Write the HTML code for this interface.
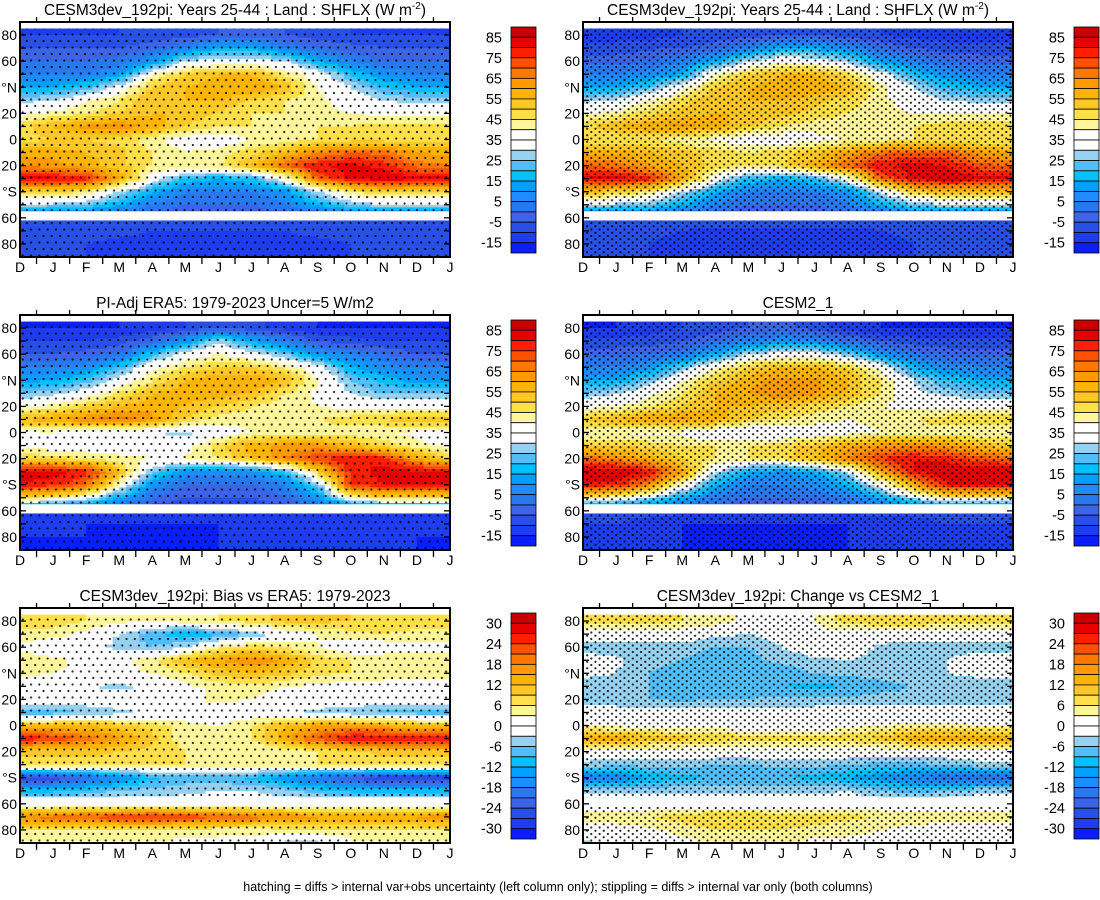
<!DOCTYPE html>
<html><head><meta charset="utf-8">
<style>
html,body{margin:0;padding:0;background:#fff;}
svg text{font-family:"Liberation Sans",Arial,sans-serif;fill:#000;}
</style></head>
<body>
<svg id="fig" width="1100" height="895" viewBox="0 0 1100 895" xmlns="http://www.w3.org/2000/svg">
<defs>
<pattern id="dots" width="8.3" height="6.5" patternUnits="userSpaceOnUse"><circle cx="2" cy="2" r="1.1" fill="#000"/><circle cx="6.15" cy="5.25" r="1.1" fill="#000"/></pattern>
<pattern id="dotsSparse" width="8.3" height="13" patternUnits="userSpaceOnUse"><circle cx="2" cy="2" r="1.1" fill="#000"/><circle cx="6.15" cy="8.5" r="1.1" fill="#000"/></pattern>
</defs>
<g id="panels"></g>
<text x="558" y="891" font-size="12.5" text-anchor="middle">hatching = diffs &gt; internal var+obs uncertainty (left column only); stippling = diffs &gt; internal var only (both columns)</text>
</svg>
<script>
const months = ['D','J','F','M','A','M','J','J','A','S','O','N','D','J'];
const lats = [90,80,70,60,50,40,30,20,10,0,-10,-20,-30,-40,-50,-60,-70,-80,-90];
const latLabels = ['80','60','°N','20','0','20','°S','60','80'];
const latLabelVals = [80,60,40,20,0,-20,-40,-60,-80];
const missingBands = [[90,85],[-55,-62]];
const absTicks = ['85','75','65','55','45','35','25','15','5','-5','-15'];
const diffTicks = ['30','24','18','12','6','0','-6','-12','-18','-24','-30'];
const boxColors = ['#c80000','#e60000','#ff1e00','#ff5000','#ff7800','#ff9a00','#ffb400','#ffc828','#ffe04a','#fff59a','#ffffff','#ffffff','#96d2f0','#50befa','#00c0ff','#00a0ff','#1e8cff','#2878f0','#3c64e6','#2850e6','#1e3cf0','#0a1eff'];

const fieldA = [
[-10,-10,-10,-10,-8,-8,-5,-3,-5,-8,-10,-10,-10,-10],
[-10,-10,-10,-10,-8,-8,-5,-3,-5,-8,-10,-10,-10,-10],
[-5,-5,-5,-5,-2,5,15,15,5,0,-3,-5,-5,-5],
[0,0,0,2,10,30,35,35,30,15,5,0,0,0],
[5,5,5,10,40,50,55,55,45,35,20,10,5,5],
[15,15,20,35,50,55,60,60,55,40,30,20,15,15],
[28,30,40,45,55,55,55,50,45,42,35,30,28,28],
[38,42,45,50,55,55,50,45,45,42,40,38,38,38],
[48,55,62,65,58,50,45,45,42,45,45,48,48,48],
[48,50,50,48,42,35,35,40,42,45,48,48,48,48],
[58,58,55,52,45,40,42,48,55,65,70,68,60,58],
[65,62,58,52,45,42,45,55,70,80,82,78,68,65],
[82,82,78,60,35,20,15,20,35,70,82,85,82,82],
[50,50,45,30,15,5,5,5,10,30,45,50,50,50],
[30,28,25,15,5,0,0,0,5,15,25,30,30,30],
[-5,-5,-5,-5,-5,-5,-5,-5,-5,-5,-5,-5,-5,-5],
[-5,-5,-6,-8,-10,-10,-10,-10,-10,-8,-6,-5,-5,-5],
[-8,-8,-10,-12,-12,-12,-12,-12,-12,-12,-10,-8,-8,-8],
[-8,-8,-10,-12,-12,-12,-12,-12,-12,-12,-10,-8,-8,-8]];
const fieldB = [
[-12,-12,-12,-10,-8,-8,-5,-5,-8,-10,-12,-12,-12,-12],
[-12,-12,-12,-10,-8,-8,-5,-5,-8,-10,-12,-12,-12,-12],
[-8,-8,-6,-5,-2,5,15,15,8,0,-5,-8,-8,-8],
[-2,-2,0,5,15,30,38,35,28,12,5,0,-2,-2],
[5,5,8,15,40,50,55,55,48,35,18,10,5,5],
[15,15,22,38,50,55,60,60,55,42,30,20,15,15],
[28,32,40,48,55,55,55,52,48,42,35,30,28,28],
[40,42,48,52,55,55,52,48,45,42,40,40,40,40],
[48,55,60,62,58,50,45,42,42,45,45,48,48,48],
[45,45,45,42,38,35,35,38,40,42,45,45,45,45],
[58,58,55,52,48,45,48,52,60,68,72,70,62,58],
[70,68,60,55,48,45,48,58,70,80,82,80,72,70],
[82,82,78,60,35,20,15,20,35,70,82,85,82,82],
[55,50,45,30,15,5,5,5,10,30,50,55,55,55],
[30,28,25,15,5,0,0,0,5,15,25,30,30,30],
[-5,-5,-5,-5,-5,-5,-5,-5,-5,-5,-5,-5,-5,-5],
[-8,-8,-8,-10,-12,-12,-12,-12,-12,-10,-8,-8,-8,-8],
[-8,-8,-10,-12,-14,-14,-14,-14,-14,-12,-10,-8,-8,-8],
[-8,-8,-10,-12,-14,-14,-14,-14,-14,-12,-10,-8,-8,-8]];
const fieldC = [
[-15,-15,-15,-15,-12,-10,-5,-8,-12,-15,-15,-15,-15,-15],
[-15,-15,-15,-15,-12,-10,-5,-8,-12,-15,-15,-15,-15,-15],
[-10,-10,-10,-8,-2,10,30,15,5,-5,-8,-10,-10,-10],
[-5,-5,-3,0,20,35,40,35,25,10,5,0,-5,-5],
[5,5,8,20,38,45,50,50,45,35,15,8,5,5],
[12,15,22,35,45,55,60,60,55,40,25,18,12,12],
[25,28,35,45,55,58,58,55,45,38,30,25,25,25],
[38,42,50,55,58,55,50,45,42,40,38,38,38,38],
[55,60,65,68,62,50,42,42,42,45,48,50,55,55],
[38,38,35,32,30,28,35,40,42,42,42,40,38,38],
[38,36,35,35,35,38,48,58,62,62,55,48,42,38],
[50,48,45,42,40,40,45,55,65,75,80,78,60,50],
[82,82,78,55,25,10,8,10,20,50,78,82,82,82],
[80,78,70,40,10,0,0,0,5,25,75,80,80,80],
[50,45,35,15,0,-5,-5,-5,0,10,40,50,50,50],
[-10,-10,-10,-10,-10,-10,-10,-10,-10,-10,-10,-10,-10,-10],
[-14,-14,-15,-15,-15,-15,-15,-15,-15,-15,-14,-14,-14,-14],
[-15,-15,-15,-15,-15,-15,-15,-14,-12,-10,-10,-12,-15,-15],
[-15,-15,-15,-15,-15,-15,-15,-14,-12,-10,-10,-12,-15,-15]];
const fieldD = [
[-15,-15,-12,-10,-8,-5,-3,-8,-12,-15,-15,-15,-15,-15],
[-15,-15,-12,-10,-8,-5,-3,-8,-12,-15,-15,-15,-15,-15],
[-8,-8,-8,-5,0,5,10,8,0,-5,-8,-8,-8,-8],
[-2,-2,0,2,15,30,35,35,25,10,2,-2,-2,-2],
[5,5,10,25,40,50,55,55,50,38,15,8,5,5],
[15,15,25,40,50,58,62,62,55,45,30,20,15,15],
[25,30,38,45,55,60,65,62,55,45,32,28,25,25],
[38,40,45,50,55,55,52,48,45,40,38,38,38,38],
[50,55,60,62,58,50,45,42,40,42,45,48,50,50],
[40,40,38,38,32,30,32,35,38,40,42,42,40,40],
[50,50,48,45,45,45,48,52,58,62,65,62,55,50],
[70,65,58,50,45,45,48,55,65,75,80,78,72,70],
[85,85,80,60,30,15,10,15,30,60,80,85,85,85],
[80,78,65,40,15,5,5,8,15,35,60,80,80,80],
[45,40,30,15,5,0,0,0,5,15,30,45,45,45],
[-8,-8,-8,-8,-8,-8,-8,-8,-8,-8,-8,-8,-8,-8],
[-10,-10,-12,-15,-15,-15,-15,-15,-15,-14,-12,-10,-10,-10],
[-10,-12,-12,-15,-15,-15,-15,-15,-15,-14,-12,-12,-10,-10],
[-10,-12,-12,-15,-15,-15,-15,-15,-15,-14,-12,-12,-10,-10]];
const fieldE = [
[8,8,6,4,3,5,6,8,10,10,9,9,8,8],
[8,8,6,4,3,5,6,8,10,10,9,9,8,8],
[5,4,2,-3,-8,-12,-10,-6,0,3,5,6,5,5],
[2,0,0,-5,-6,-3,5,8,6,3,0,0,2,2],
[5,4,2,2,5,12,15,18,15,8,6,6,5,5],
[4,3,2,2,3,6,10,12,10,7,6,5,4,4],
[1,0,-3,-4,-2,2,4,5,3,2,1,1,1,1],
[0,0,0,0,0,2,4,3,1,0,0,0,0,0],
[-8,-8,-6,-4,-2,0,0,0,-2,-4,-5,-7,-8,-8],
[12,12,12,10,8,4,3,6,12,15,15,14,12,12],
[27,24,20,16,10,4,3,6,14,22,28,28,27,27],
[10,10,10,9,8,6,5,3,3,6,8,10,10,10],
[8,8,8,7,6,6,6,5,5,6,7,8,8,8],
[-28,-26,-22,-16,-10,-8,-8,-10,-15,-20,-24,-28,-28,-28],
[-10,-10,-8,-6,-5,-4,-3,-3,-5,-8,-10,-10,-10,-10],
[0,0,0,0,0,0,0,0,0,0,0,0,0,0],
[18,20,22,24,26,24,22,20,18,16,15,15,16,18],
[6,6,6,6,6,5,4,4,5,5,6,6,6,6],
[2,2,2,2,2,2,2,2,-4,-4,2,2,2,2]];
const fieldF = [
[8,8,8,6,5,2,0,3,8,9,9,8,8,8],
[8,8,8,6,5,2,0,3,8,9,9,8,8,8],
[0,0,0,0,-2,-3,0,2,0,0,0,0,0,0],
[-5,-5,-5,-5,-6,-6,-3,0,0,-4,-5,-5,-5,-5],
[0,-2,-5,-6,-7,-7,-5,-4,-3,-4,-4,-3,0,0],
[-2,-3,-6,-8,-9,-9,-8,-6,-5,-5,-4,-3,-2,-2],
[-5,-5,-6,-8,-9,-8,-9,-10,-9,-7,-6,-5,-5,-5],
[-5,-6,-6,-7,-6,-6,-5,-5,-5,-5,-5,-5,-5,-5],
[0,0,-1,-1,-1,0,-2,-1,0,0,0,0,0,0],
[3,2,1,1,1,0,0,0,2,3,4,4,3,3],
[15,14,12,10,9,8,7,7,8,10,14,15,15,15],
[0,0,0,0,0,0,0,0,0,0,0,0,0,0],
[-4,-5,-5,-5,-6,-6,-5,-5,-6,-7,-7,-6,-4,-4],
[-20,-18,-12,-10,-9,-9,-9,-10,-12,-15,-18,-20,-20,-20],
[-4,-4,-4,-4,-4,-4,-4,-4,-3,-6,-8,-6,-4,-4],
[0,0,0,0,0,0,0,0,0,0,0,0,0,0],
[5,6,6,8,9,9,8,8,7,6,6,5,5,5],
[0,0,2,4,6,6,6,5,4,3,1,0,0,0],
[-4,0,0,2,3,3,3,2,2,1,0,0,0,0]];

const NS='http://www.w3.org/2000/svg';
const root=document.getElementById('panels');
function mk(tag,attrs,parent){const e=document.createElementNS(NS,tag);for(const k in attrs)e.setAttribute(k,attrs[k]);(parent||root).appendChild(e);return e;}

const panelDefs=[
 {id:'model-top-left',x0:20,y0:22,field:fieldA,diff:false,title:'CESM3dev_192pi: Years 25-44 : Land : SHFLX (W m',sup:true,stip:'dotsSparse'},
 {id:'model-top-right',x0:583,y0:22,field:fieldB,diff:false,title:'CESM3dev_192pi: Years 25-44 : Land : SHFLX (W m',sup:true,stip:'dots'},
 {id:'era5-obs',x0:20,y0:315,field:fieldC,diff:false,title:'PI-Adj ERA5: 1979-2023 Uncer=5 W/m2',sup:false,stip:'dotsSparse'},
 {id:'cesm2-1',x0:583,y0:315,field:fieldD,diff:false,title:'CESM2_1',sup:false,stip:'dots'},
 {id:'bias-vs-era5',x0:20,y0:608,field:fieldE,diff:true,title:'CESM3dev_192pi: Bias vs ERA5: 1979-2023',sup:false,stip:'dotsSparse'},
 {id:'change-vs-cesm2',x0:583,y0:608,field:fieldF,diff:true,title:'CESM3dev_192pi: Change vs CESM2_1',sup:false,stip:'dots'}];
const W=430,H=235;

function interp(field,u,lat){
  const r=(90-lat)/10; const r0=Math.max(0,Math.min(17,Math.floor(r))); const fr=Math.min(1,Math.max(0,r-r0));
  const c0=Math.max(0,Math.min(12,Math.floor(u))); const fc=Math.min(1,Math.max(0,u-c0));
  const a=field[r0][c0],b=field[r0][c0+1],c=field[r0+1][c0],d=field[r0+1][c0+1];
  return (a*(1-fc)+b*fc)*(1-fr)+(c*(1-fc)+d*fc)*fr;
}
function colorIdx(v,diff){const top=diff?33:90,st=diff?3:5;return Math.max(0,Math.min(21,Math.floor((top-v)/st)));}

panelDefs.forEach(p=>{
  const g=mk('g',{});
  
  
  const xOf=i=>p.x0+i*W/13;
  const yOf=lat=>p.y0+(90-lat)/180*H;
  const cells=mk('g',{},g);
  
  
  const SUB=5, NX=13*SUB, DLAT=2;
  for(let lat=90;lat>-90;lat-=DLAT){
    const lc=lat-DLAT/2;
    let runStart=0,runIdx=-1;
    for(let k=0;k<=NX;k++){
      let idx=-2;
      if(k<NX){const u=(k+0.5)/SUB; idx=colorIdx(interp(p.field,u,lc),p.diff);}
      if(idx!==runIdx){
        if(runIdx>=0&&boxColors[runIdx]!=='#ffffff'){
          const r=mk('rect',{x:xOf(runStart/SUB).toFixed(2),y:yOf(lat).toFixed(2),width:((k-runStart)/SUB*W/13+0.4).toFixed(2),height:(DLAT*H/180+0.4).toFixed(2),fill:boxColors[runIdx]},cells);
          
          
        }
        runStart=k;runIdx=idx;
      }
    }
  }
  const st=mk('rect',{x:p.x0,y:yOf(85),width:W,height:yOf(-90)-yOf(85),fill:'url(#'+p.stip+')',opacity:0.85},g);
  
  
  missingBands.forEach(b=>{const m=mk('rect',{x:p.x0,y:yOf(b[0]),width:W,height:yOf(b[1])-yOf(b[0]),fill:'#fff'},g);
    
    });
  const fr=mk('rect',{x:p.x0,y:p.y0,width:W,height:H,fill:'none',stroke:'#000','stroke-width':2},g);
  
  
  for(let lat=80;lat>=-80;lat-=10){
    const y=yOf(lat);
    mk('line',{x1:p.x0,x2:p.x0+6,y1:y,y2:y,stroke:'#000','stroke-width':1.3},g);
    mk('line',{x1:p.x0+W,x2:p.x0+W-6,y1:y,y2:y,stroke:'#000','stroke-width':1.3},g);
  }
  latLabels.forEach((t,i)=>{const tx=mk('text',{x:p.x0-3,y:yOf(latLabelVals[i])+5,'font-size':14,'text-anchor':'end'},g);tx.textContent=t;
    
    });
  months.forEach((m,i)=>{const tx=mk('text',{x:xOf(i),y:p.y0+H+15,'font-size':14,'text-anchor':'middle'},g);tx.textContent=m;
    
    
    if(i<13){const xm=xOf(i+0.5);
      mk('line',{x1:xm,x2:xm,y1:p.y0+H,y2:p.y0+H+7,stroke:'#000','stroke-width':1.3},g);
      mk('line',{x1:xm,x2:xm,y1:p.y0,y2:p.y0-5,stroke:'#000','stroke-width':1.3},g);}
  });
  const tt=mk('text',{x:p.x0+W/2,y:p.y0-7,'font-size':15.5,'text-anchor':'middle'},g);
  
  
  tt.textContent=p.title;
  if(p.sup){const s=mk('tspan',{'font-size':10,dy:-6},tt);s.textContent='-2';const s2=mk('tspan',{dy:6},tt);s2.textContent=')';}
  const cb=mk('g',{},g);
  
  
  const cbx=p.x0+W+61, cby=p.y0+5, bh=226/22;
  boxColors.forEach((c,i)=>{const r=mk('rect',{x:cbx,y:cby+i*bh,width:25,height:bh,fill:c,stroke:'#000','stroke-width':0.8},cb);
    
    });
  const labs=p.diff?diffTicks:absTicks;
  labs.forEach((t,j)=>{const tx=mk('text',{x:cbx-9,y:cby+(2*j+1)*bh+5,'font-size':14.5,'text-anchor':'end'},cb);tx.textContent=t;
    
    });
});
</script>
</body></html>
